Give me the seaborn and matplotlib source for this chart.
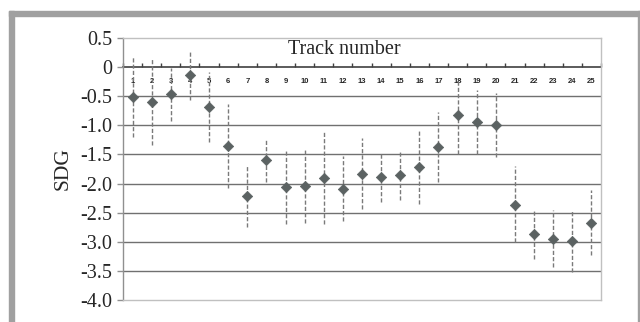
"""
SDG per track with error ranges
"""

import numpy as np
import pandas as pd
import matplotlib
matplotlib.use('Agg')
import matplotlib.pyplot as plt
from matplotlib.patches import Rectangle
import seaborn as sns

# Track numbers and SDG estimates
TRACKS = list(range(1, 26))
SDG = [-0.52, -0.60, -0.47, -0.13, -0.68, -1.35, -2.21, -1.60, -2.06, -2.05,
       -1.90, -2.10, -1.83, -1.88, -1.85, -1.72, -1.37, -0.82, -0.94, -1.00,
       -2.36, -2.86, -2.95, -2.98, -2.67]
UPPER = [0.19, 0.16, -0.01, 0.30, -0.09, -0.63, -1.68, -1.23, -1.40, -1.40,
         -1.09, -1.53, -1.21, -1.46, -1.42, -1.07, -0.77, -0.21, -0.40, -0.45,
         -1.70, -2.43, -2.45, -2.46, -2.11]
LOWER = [-1.20, -1.34, -0.92, -0.56, -1.29, -2.08, -2.74, -1.98, -2.70, -2.68,
         -2.70, -2.65, -2.44, -2.32, -2.29, -2.35, -1.97, -1.49, -1.49, -1.55,
         -3.01, -3.29, -3.43, -3.52, -3.22]
Y_TICKS = [0.5, 0, -0.5, -1.0, -1.5, -2.0, -2.5, -3.0, -3.5, -4.0]
Y_LABELS = ['0.5', '0', '-0.5', '-1.0', '-1.5', '-2.0', '-2.5', '-3.0', '-3.5', '-4.0']

df = pd.DataFrame({'track': TRACKS, 'sdg': SDG, 'lo': LOWER, 'hi': UPPER})

sns.set_style('white')
serif = ['Liberation Serif', 'DejaVu Serif']

W, H = 640, 322
fig = plt.figure(figsize=(6.4, 3.22), dpi=100)

# grey frame around the picture (top band, left band, thin right line)
fig.patches.append(Rectangle((9 / W, 1 - 16 / H), 631 / W, 5 / H,
                             transform=fig.transFigure, color='#a0a0a0', zorder=0))
fig.patches.append(Rectangle((9 / W, 0), 5 / W, 1 - 11 / H,
                             transform=fig.transFigure, color='#a0a0a0', zorder=0))
fig.patches.append(Rectangle((638 / W, 0), 1.5 / W, 1 - 11 / H,
                             transform=fig.transFigure, color='#a0a0a0', zorder=0))

ax = fig.add_axes([123 / W, 1 - 300 / H, 478 / W, 262 / H])

ymin, ymax = -4.0, 0.5
ax.set_ylim(ymin, ymax)
ax.set_xlim(0.5, 25.5)

# horizontal grid
for y in Y_TICKS[2:-1]:
    ax.axhline(y, color='#707070', lw=1.0, zorder=1)

# dashed error ranges
ax.vlines(df['track'], df['lo'], df['hi'], colors='#7a7a7a',
          linestyles=(0, (3, 1.5)), lw=1.0, zorder=2)

sns.scatterplot(data=df, x='track', y='sdg', marker='D', s=28,
                color='#5b6262', edgecolor='#5b6262', linewidth=0.5,
                ax=ax, zorder=3, legend=False)

ax.set_xlabel('')
ax.set_ylabel('SDG', fontsize=15.5, family=serif, labelpad=5)
ax.set_yticks(Y_TICKS)
ax.set_yticklabels(Y_LABELS, fontsize=14.5, family=serif)
ax.tick_params(axis='y', left=True, length=4, width=1, color='#909090', pad=4)
ax.set_xticks([])

for side in ['top', 'right', 'bottom']:
    ax.spines[side].set_color('#c0c0c0')
    ax.spines[side].set_linewidth(1.0)
ax.spines['left'].set_color('#909090')
ax.spines['left'].set_linewidth(1.0)

# category axis sitting on the zero line
sec = ax.secondary_xaxis((0 - ymin) / (ymax - ymin))
sec.set_alignment('bottom')
sec.spines['bottom'].set_color('#404040')
sec.spines['bottom'].set_linewidth(1.2)
sec.set_xticks(TRACKS)
sec.set_xticklabels([str(t) for t in TRACKS], fontsize=5.5, fontweight='bold',
                    family=['Liberation Sans', 'DejaVu Sans'])
sec.set_xticks(np.arange(0.5, 26, 1.0), minor=True)
sec.tick_params(axis='x', which='major', length=0, pad=8)
sec.tick_params(axis='x', which='minor', length=3, width=1, direction='in',
                color='#404040')

ax.text(12.1, 0.3, 'Track number', fontsize=14.5, family=serif,
        ha='center', va='center')

fig.savefig('out.png', dpi=100)
